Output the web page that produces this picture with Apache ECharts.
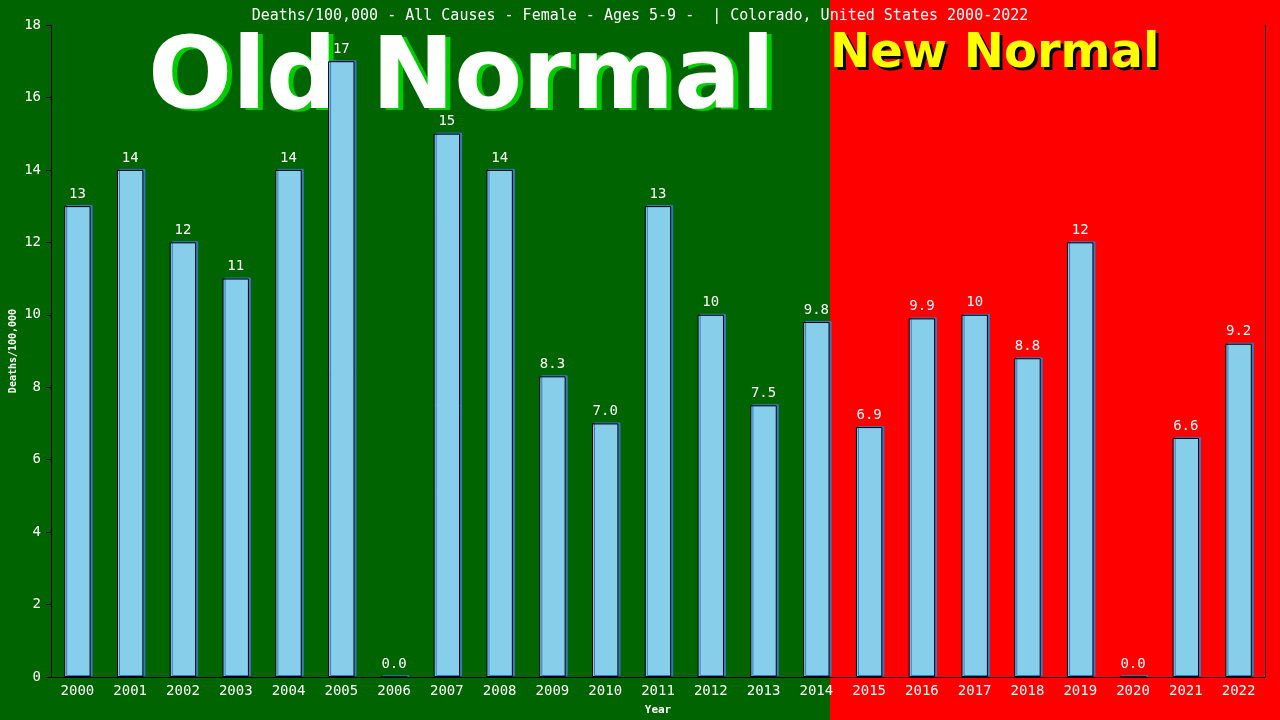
<!DOCTYPE html>
<html>
<head>
<meta charset="utf-8">
<script src="https://cdn.jsdelivr.net/npm/echarts@6/dist/echarts.min.js"></script>
<style>html,body{margin:0;padding:0;background:#006400;}#c{width:1280px;height:720px;}</style>
</head>
<body>
<div id="c"></div>
<script>
const years = ['2000','2001','2002','2003','2004','2005','2006','2007','2008','2009','2010','2011','2012','2013','2014','2015','2016','2017','2018','2019','2020','2021','2022'];
const deaths = [13,14,12,11,14,17,0,15,14,8.3,7.0,13,10,7.5,9.8,6.9,9.9,10,8.8,12,0,6.6,9.2];
const titleText = 'Deaths/100,000 - All Causes - Female - Ages 5-9 -  | Colorado, United States 2000-2022';
const yTicks = [0,2,4,6,8,10,12,14,16,18];

const mono = '"DejaVu Sans Mono", monospace';
const bigFont = 'bold 99px "DejaVu Sans"';
const newFont = 'bold 48px "DejaVu Sans"';
const chart = echarts.init(document.getElementById('c'));
chart.setOption({
  backgroundColor: '#006400',
  animation: false,
  title: {
    text: titleText, left: 'center', top: 4,
    textStyle: {color: '#fff', fontFamily: mono, fontSize: 15, fontWeight: 'normal'}
  },
  graphic: {
    elements: [
      {type: 'rect', left: 830, top: 0, z: -100, shape: {width: 450, height: 720}, style: {fill: '#ff0000'}},
      {type: 'text', left: 153, top: 35, z: -95, style: {text: 'Old Normal', fill: '#00cc00', font: bigFont}},
      {type: 'text', left: 148, top: 33, z: -90, style: {text: 'Old Normal', fill: '#ffffff', font: bigFont}},
      {type: 'text', left: 833, top: 34, z: -95, style: {text: 'New Normal', fill: '#000000', font: newFont}},
      {type: 'text', left: 830, top: 31, z: -90, style: {text: 'New Normal', fill: '#ffff00', font: newFont}}
    ]
  },
  grid: {left: 51, right: 15, top: 25, bottom: 43, outerBoundsMode: 'none', containLabel: false},
  xAxis: {
    type: 'category', data: years,
    name: 'Year', nameLocation: 'middle', nameGap: 28, nameMoveOverlap: false,
    nameTextStyle: {color: '#fff', fontFamily: mono, fontSize: 11, fontWeight: 'bold'},
    axisLine: {lineStyle: {color: '#000', width: 1}},
    axisTick: {show: false},
    axisLabel: {color: '#fff', fontFamily: mono, fontSize: 14, margin: 7, interval: 0}
  },
  yAxis: [{
    type: 'value', min: 0, max: 18, interval: 2,
    name: 'Deaths/100,000', nameLocation: 'middle', nameGap: 33, nameMoveOverlap: false,
    nameTextStyle: {color: '#fff', fontFamily: mono, fontSize: 10, fontWeight: 'bold'},
    axisLine: {show: true, lineStyle: {color: '#000', width: 1}},
    axisTick: {show: true, length: 5, lineStyle: {color: '#000'}},
    axisLabel: {color: '#fff', fontFamily: mono, fontSize: 14, margin: 10,
      formatter: v => yTicks.includes(v) ? String(v) : ''},
    splitLine: {show: false}
  }, {
    type: 'value', min: 0, max: 18, interval: 2, position: 'right',
    axisLine: {show: true, lineStyle: {color: '#000', width: 1}},
    axisTick: {show: false}, axisLabel: {show: false}, splitLine: {show: false}
  }],
  series: [{
    type: 'bar', data: deaths, barWidth: '50%', z: 5,
    itemStyle: {color: '#87ceeb', borderColor: '#000', borderWidth: 1,
      shadowColor: '#3b78c4', shadowOffsetX: 2, shadowOffsetY: -1, shadowBlur: 0},
    label: {show: true, position: 'top', distance: 5, color: '#fff', fontFamily: mono, fontSize: 14,
      formatter: p => p.value >= 10 ? String(Math.round(p.value)) : p.value.toFixed(1)}
  }]
});
</script>
</body>
</html>
